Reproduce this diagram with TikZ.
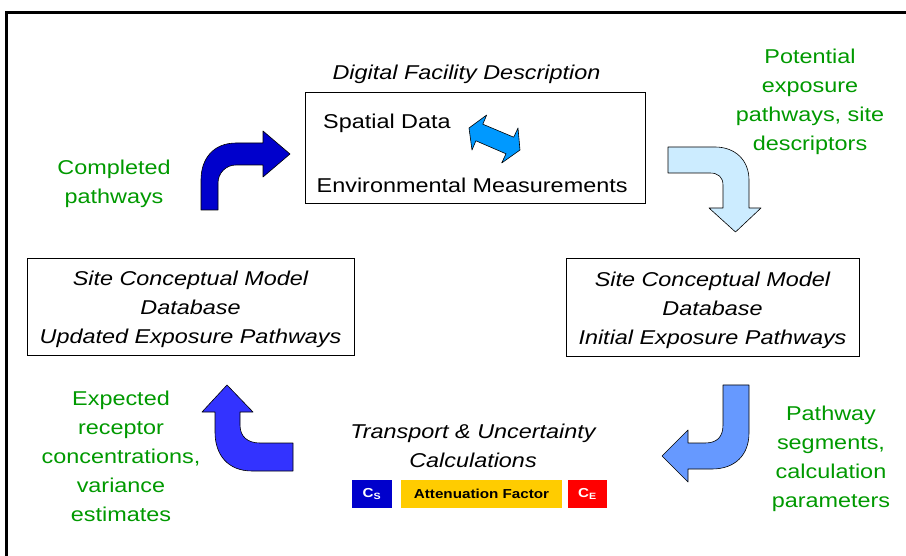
\documentclass[tikz,border=0pt]{standalone}
\usepackage{fontspec}
\setmainfont{Liberation Sans}[FakeStretch=1.17]
\newcommand{\fsz}{\fontsize{20}{29}\selectfont}
\definecolor{notegreen}{RGB}{0,153,0}
\definecolor{csblue}{RGB}{0,0,204}
\definecolor{afyellow}{RGB}{255,204,0}
\definecolor{swapblue}{RGB}{0,153,255}
\definecolor{darkarrow}{RGB}{0,0,204}
\definecolor{palearrow}{RGB}{204,236,255}
\definecolor{midarrow}{RGB}{102,153,255}
\definecolor{deeparrow}{RGB}{51,51,255}
\begin{document}
\begin{tikzpicture}[x=1pt,y=-1pt,
    txt/.style={align=center,inner sep=0pt,font=\fsz},
    note/.style={txt,text=notegreen},
    dbox/.style={draw,line width=0.8pt,inner sep=0pt},
    arr/.style={draw=black,line width=0.6pt,line join=round},
    tag/.style={inner sep=0pt,minimum height=28pt,font=\fontsize{13}{15}\selectfont\bfseries}]
\useasboundingbox (0,0) rectangle (906,556);
\draw[line width=2.3pt] (906,12.5) -- (6.5,12.5) -- (6.5,556);

% digital facility description
\node[txt,font=\fsz\itshape] (dfdtitle) at (466.5,74) {Digital Facility Description};
\node[dbox,minimum width=340pt,minimum height=111pt] (dfd) at (475,147.5) {};
\node[txt,anchor=west] (spatial) at (323,123) {Spatial Data};
\node[txt,anchor=west] (envmeas) at (316.5,185) {Environmental Measurements};
\filldraw[arr,fill=swapblue] (469,128) -- (486.7,115) -- (482.8,124.2) -- (513.7,137.2)
    -- (518,128) -- (520,150) -- (501.7,163) -- (506,153.8) -- (475.9,140.8) -- (472,150) -- cycle;

% the two site models
\node[dbox,minimum width=327pt,minimum height=97pt] (scmup) at (190.5,306.5) {};
\node[txt,font=\fsz\itshape] (scmuptxt) at (190.5,309.5)
    {Site Conceptual Model\\Database\\Updated Exposure Pathways};
\node[dbox,minimum width=293pt,minimum height=98pt] (scmin) at (712.5,307) {};
\node[txt,font=\fsz\itshape] (scmintxt) at (712.5,310)
    {Site Conceptual Model\\Database\\Initial Exposure Pathways};

% transport
\node[txt,font=\fsz\itshape] (transport) at (473,446) {Transport \& Uncertainty\\Calculations};
\node[tag,fill=csblue,text=white,minimum width=40pt] (cs) at (372,494) {C\textsubscript{S}};
\node[tag,fill=afyellow,minimum width=161pt] (af) at (481.5,494) {Attenuation Factor};
\node[tag,fill=red,text=white,minimum width=39pt] (ce) at (587.5,494) {C\textsubscript{E}};

% green notes
\node[note] (potential) at (810,102) {Potential\\exposure\\pathways, site\\descriptors};
\node[note] (completed) at (114,184) {Completed\\pathways};
\node[note] (segments) at (831,459) {Pathway\\segments,\\calculation\\parameters};
\node[note] (expected) at (121,456) {Expected\\receptor\\concentrations,\\variance\\estimates};

% bent arrows
\filldraw[arr,fill=darkarrow] (201,210) -- (201,180) .. controls (201,158) and (214,143) .. (236,143)
    -- (263,143) -- (263,131) -- (290,154) -- (263,177) -- (263,165) -- (236,165)
    .. controls (226,165) and (218,173) .. (218,183) -- (218,210) -- cycle;
\filldraw[arr,fill=palearrow] (668,147) -- (715,147) .. controls (735,147) and (749,160) .. (749,180)
    -- (749,208) -- (761,208) -- (735.5,232) -- (709,208) -- (723,208) -- (723,185)
    .. controls (723,177) and (718,173) .. (710,173) -- (668,173) -- cycle;
\filldraw[arr,fill=midarrow] (749,385) -- (749,433) .. controls (749,455) and (735,469) .. (712,469)
    -- (688,469) -- (688,482) -- (662,456) -- (688,430) -- (688,443) -- (705,443)
    .. controls (717,443) and (723,437) .. (723,425) -- (723,385) -- cycle;
\filldraw[arr,fill=deeparrow] (227,385) -- (253,412) -- (240,412) -- (240,425)
    .. controls (240,437) and (248,443) .. (260,443) -- (293,443) -- (293,471) -- (252,471)
    .. controls (228,471) and (215,455) .. (215,432) -- (215,412) -- (202,412) -- cycle;
\end{tikzpicture}
\end{document}
